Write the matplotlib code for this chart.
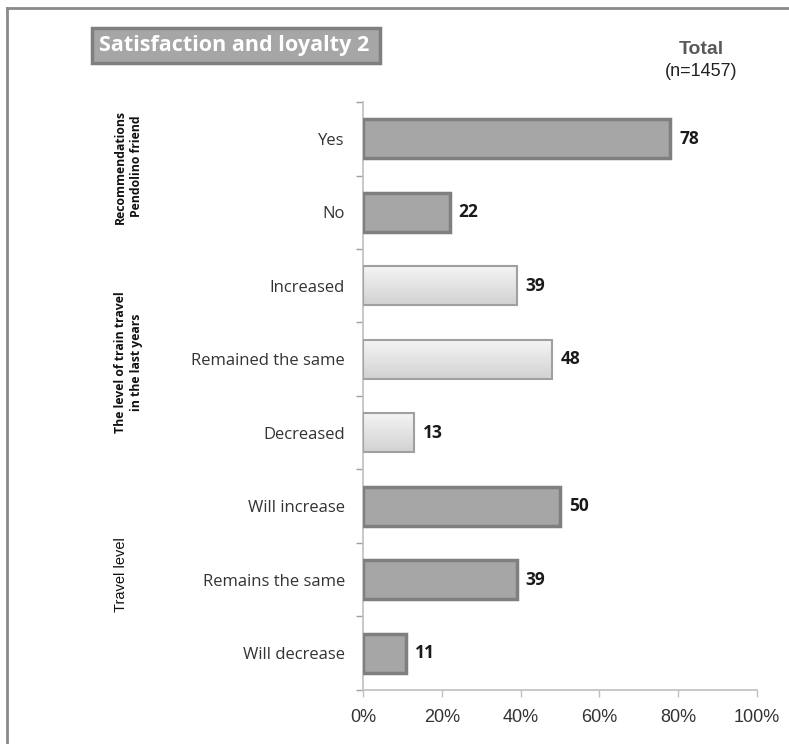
import numpy as np
import matplotlib.pyplot as plt
from matplotlib.colors import LinearSegmentedColormap
from matplotlib.patches import Rectangle
from matplotlib.lines import Line2D

# survey answers, top to bottom
categories = ['Yes', 'No',
              'Increased', 'Remained the same', 'Decreased',
              'Will increase', 'Remains the same', 'Will decrease']
values = [78, 22, 39, 48, 13, 50, 39, 11]
# which bars belong to the "level of train travel" block (drawn light)
light = [False, False, True, True, True, False, False, False]
group_labels = ['Recommendations\nPendolino friend',
                'The level of train travel\nin the last years',
                'Travel level']
group_rows = [(0, 1), (2, 4), (5, 7)]
xticks = [0, 20, 40, 60, 80, 100]

fig = plt.figure(figsize=(7.89, 7.44), dpi=100)
ax = fig.add_axes([0.460, 0.0726, 0.4994, 0.7903])

y = np.arange(len(categories))
dark_fill = '#a6a6a6'
dark_edge = '#7f7f7f'

bars = ax.barh(y, values, height=0.53, color=dark_fill, edgecolor=dark_edge,
               linewidth=2.5, zorder=3)

# light bars get a soft vertical gradient instead of a flat fill
grad = np.linspace(0, 1, 64).reshape(-1, 1)
light_cmap = LinearSegmentedColormap.from_list('lg', ['#f4f4f4', '#d2d2d2'])
for rect, is_light in zip(bars, light):
    if not is_light:
        continue
    rect.set_facecolor('none')
    rect.set_edgecolor('#a0a0a0')
    rect.set_linewidth(1.5)
    x0, y0 = rect.get_x(), rect.get_y()
    w, h = rect.get_width(), rect.get_height()
    ax.imshow(grad, extent=(x0, x0 + w, y0 + h, y0), aspect='auto',
              cmap=light_cmap, zorder=2, interpolation='bicubic')

for rect, v in zip(bars, values):
    ax.text(rect.get_width() + 2.3, rect.get_y() + rect.get_height() / 2,
            str(v), va='center', ha='left', fontsize=12.5, fontweight='bold',
            family='Open Sans', color='#1a1a1a')

ax.set_xlim(0, 100)
ax.set_ylim(len(categories) - 0.5, -0.5)
ax.set_yticks(y)
ax.set_yticklabels(categories, fontsize=12, family='Open Sans', color='#333333')
ax.set_yticks(np.arange(-0.5, len(categories)), minor=True)
ax.tick_params(axis='y', which='major', length=0, pad=13)
ax.tick_params(axis='y', which='minor', length=5, color='#a0a0a0', width=1)
ax.set_xticks(xticks)
ax.set_xticklabels([f'{t}%' for t in xticks], fontsize=13,
                   family='Liberation Sans', color='#333333')
ax.tick_params(axis='x', length=5, color='#bfbfbf', width=1, pad=9)

for side in ('top', 'right'):
    ax.spines[side].set_visible(False)
ax.spines['left'].set_color('#bfbfbf')
ax.spines['bottom'].set_color('#bfbfbf')
ax.spines['left'].set_linewidth(1.2)
ax.spines['bottom'].set_linewidth(1.2)

# rotated group captions to the left of the category names
group_x = [0.163, 0.163, 0.153]
group_dy = [-0.12, 0.04, -0.07]
for label, (r0, r1), gx, dy in zip(group_labels, group_rows, group_x, group_dy):
    yc = ax.transData.transform((0, (r0 + r1) / 2 + dy))[1]
    yf = fig.transFigure.inverted().transform((0, yc))[1]
    if label == 'Travel level':
        style = dict(fontsize=10.5, fontweight='normal', family='Liberation Sans')
    else:
        style = dict(fontsize=8.8, fontweight='bold', family='Open Sans')
    fig.text(gx, yf, label, rotation=90, ha='center', va='center',
             multialignment='center', color='#111111', linespacing=1.3,
             **style)

# title box
fig.patches.append(Rectangle((92 / 789, 1 - 63 / 744), 288 / 789, 35 / 744,
                             transform=fig.transFigure, facecolor=dark_fill,
                             edgecolor=dark_edge, linewidth=2.5))
fig.text(99 / 789, 1 - 46 / 744, 'Satisfaction and loyalty 2', ha='left',
         va='center', fontsize=15.5, fontweight='bold', family='Open Sans',
         color='white')

fig.text(701 / 789, 1 - 49 / 744, 'Total', ha='center', va='center',
         fontsize=14, fontweight='bold', family='Liberation Sans', color='#595959')
fig.text(701 / 789, 1 - 71 / 744, '(n=1457)', ha='center', va='center',
         fontsize=13, family='Liberation Sans', color='#222222')

# frame around the slide (only left and top edges fall inside the image)
fig.add_artist(Line2D([7 / 789, 7 / 789], [0, 1 - 8 / 744],
                      transform=fig.transFigure, color='#8a8a8a', linewidth=2))
fig.add_artist(Line2D([7 / 789, 1], [1 - 8 / 744, 1 - 8 / 744],
                      transform=fig.transFigure, color='#8a8a8a', linewidth=2))

fig.savefig('out.png', dpi=100)
